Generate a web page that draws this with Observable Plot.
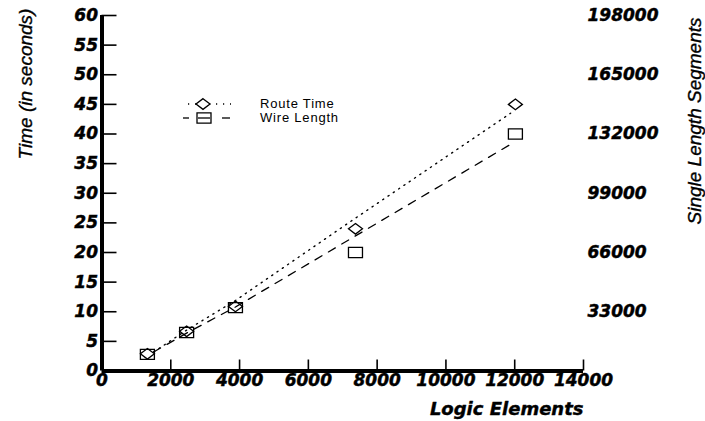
<!DOCTYPE html>
<html>
<head>
<meta charset="utf-8">
<script src="https://cdn.jsdelivr.net/npm/d3@7"></script>
<script src="https://cdn.jsdelivr.net/npm/@observablehq/plot@0.6"></script>
<style>
  html, body { margin: 0; padding: 0; background: #fff; }
  #chart { width: 705px; height: 421px; }
</style>
</head>
<body>
<div id="chart"></div>
<script>
// ---- data ----
const logicElements = [1320, 2460, 3880, 7370, 12020];
const routeTime = [2.9, 6.7, 10.9, 24.0, 45.0];            // seconds
const wireLength = [9240, 21450, 35310, 66000, 132000];    // single length segments

// fitted trend lines
const routeFitX = [1500, 2460, 3880, 7370, 11880];
const routeFitY = [3.2, 6.9, 11.9, 25.8, 43.5];
const wireFitX = [1500, 2460, 3880, 7370, 11950];
const wireFitY = [10560, 21120, 35640, 75240, 127050];

const xTicks = [0, 2000, 4000, 6000, 8000, 10000, 12000, 14000];
const yTicks = [0, 5, 10, 15, 20, 25, 30, 35, 40, 45, 50, 55, 60];
const rightTicks = [33000, 66000, 99000, 132000, 165000, 198000];
const segmentsPerSecond = 198000 / 60; // right axis spans the same height as 0..60 s

const seriesNames = ["Route Time", "Wire Length"];
const titles = { y: "Time (in seconds)", x: "Logic Elements", y2: "Single Length Segments" };

// ---- tables ----
const routePts = logicElements.map((x, i) => ({ x, y: routeTime[i] }));
const wirePts = logicElements.map((x, i) => ({ x, y: wireLength[i] / segmentsPerSecond }));
const routeFit = routeFitX.map((x, i) => ({ x, y: routeFitY[i] }));
const wireFit = wireFitX.map((x, i) => ({ x, y: wireFitY[i] / segmentsPerSecond }));

// custom symbols (slightly flattened like the original)
const diamond = { draw(ctx, size) { const r = Math.sqrt(size / Math.PI), h = r * 0.76;
  ctx.moveTo(0, -h); ctx.lineTo(r, 0); ctx.lineTo(0, h); ctx.lineTo(-r, 0); ctx.closePath(); } };
const box = { draw(ctx, size) { const r = Math.sqrt(size / Math.PI), h = r * 0.72;
  ctx.rect(-r, -h, 2 * r, 2 * h); } };

const tickFont = { fontFamily: "DejaVu Sans", fontWeight: "bold", fontStyle: "italic", fontSize: 17 };

const chart = Plot.plot({
  width: 705,
  height: 421,
  marginLeft: 101.5,
  marginRight: 122,
  marginTop: 15,
  marginBottom: 50.5,
  style: { background: "#fff", color: "#000" },
  x: { domain: [0, 14000] },
  y: { domain: [0, 60] },
  marks: [
    // inward tick marks
    Plot.axisY({ ticks: yTicks.filter(d => d > 0), tickSize: -15, fill: "none", strokeWidth: 1.6 }),
    Plot.axisX({ ticks: xTicks.filter(d => d > 0), tickSize: -11, fill: "none", strokeWidth: 1.6 }),
    // labels
    Plot.axisY({ ticks: yTicks, tickSize: 0, tickPadding: 4, tickFormat: d => String(d), label: null,
      ...tickFont }),
    Plot.axisX({ ticks: xTicks, tickSize: 0, tickPadding: 3, tickFormat: d => String(d), label: null,
      ...tickFont }),
    Plot.axisY({ anchor: "right", ticks: rightTicks.map(d => d / segmentsPerSecond), tickSize: 0,
      tickPadding: 4, textAnchor: "start", tickFormat: d => String(Math.round(d * segmentsPerSecond)),
      label: null, ...tickFont }),
    // axis lines
    Plot.ruleX([0], { strokeWidth: 4, stroke: "#000" }),
    Plot.ruleY([0], { strokeWidth: 4, stroke: "#000" }),
    // fit lines
    Plot.line(routeFit, { x: "x", y: "y", stroke: "#000", strokeWidth: 1.4, strokeDasharray: "1.2,5.2" }),
    Plot.line(wireFit, { x: "x", y: "y", stroke: "#000", strokeWidth: 1.3, strokeDasharray: "8,7.5" }),
    // markers
    Plot.dot(wirePts, { x: "x", y: "y", symbol: box, r: 7, stroke: "#000", fill: "none", strokeWidth: 1.3 }),
    Plot.dot(routePts, { x: "x", y: "y", symbol: diamond, r: 7, stroke: "#000", fill: "none", strokeWidth: 1.3 }),
    // x axis title
    Plot.text([titles.x], { frameAnchor: "bottom-right", dx: 0, dy: 38, textAnchor: "end",
      lineAnchor: "middle", fontFamily: "DejaVu Sans", fontWeight: "bold", fontStyle: "italic",
      fontSize: 18, fill: "#000", stroke: "#000", strokeWidth: 0.4, style: "letter-spacing:0.8px" })
  ]
});

const svg = d3.select(chart);

// make tick labels a little heavier, like the original
svg.selectAll("g[aria-label$='tick label'] text")
  .attr("stroke", "#000").attr("stroke-width", 0.45);

// rotated axis titles
const rot = (text, cx, cy) => svg.append("text")
  .attr("transform", `translate(${cx},${cy}) rotate(-90)`)
  .attr("text-anchor", "middle").attr("dy", "0.35em")
  .attr("font-family", "Liberation Sans").attr("font-style", "italic").attr("font-size", 19)
  .attr("fill", "#000").attr("stroke", "#000").attr("stroke-width", 0.35).text(text);
rot(titles.y, 25, 84);
rot(titles.y2, 694, 121);

// legend inside the plot area
const lg = svg.append("g").attr("stroke", "#000").attr("fill", "none");
lg.append("line").attr("x1", 188).attr("x2", 231).attr("y1", 104).attr("y2", 104)
  .attr("stroke-width", 1.3).attr("stroke-dasharray", "1.2,5.8");
lg.append("path").attr("d", d3.symbol(diamond, 49 * Math.PI)()).attr("transform", "translate(203,104)")
  .attr("fill", "#fff").attr("stroke-width", 1.3);
[[183, 189], [198, 210], [222, 230]].forEach(([a, b]) =>
  lg.append("line").attr("x1", a).attr("x2", b).attr("y1", 118).attr("y2", 118).attr("stroke-width", 1.3));
lg.append("path").attr("d", d3.symbol(box, 49 * Math.PI)()).attr("transform", "translate(204,118)")
  .attr("stroke-width", 1.3);
seriesNames.forEach((name, i) =>
  svg.append("text").attr("x", 260).attr("y", 108 + i * 14).attr("text-anchor", "start")
    .attr("font-family", "Liberation Sans").attr("font-style", "normal").attr("font-weight", "normal")
    .attr("font-size", 13).attr("letter-spacing", 0.8).attr("fill", "#000").text(name));

document.getElementById("chart").appendChild(chart);
</script>
</body>
</html>
